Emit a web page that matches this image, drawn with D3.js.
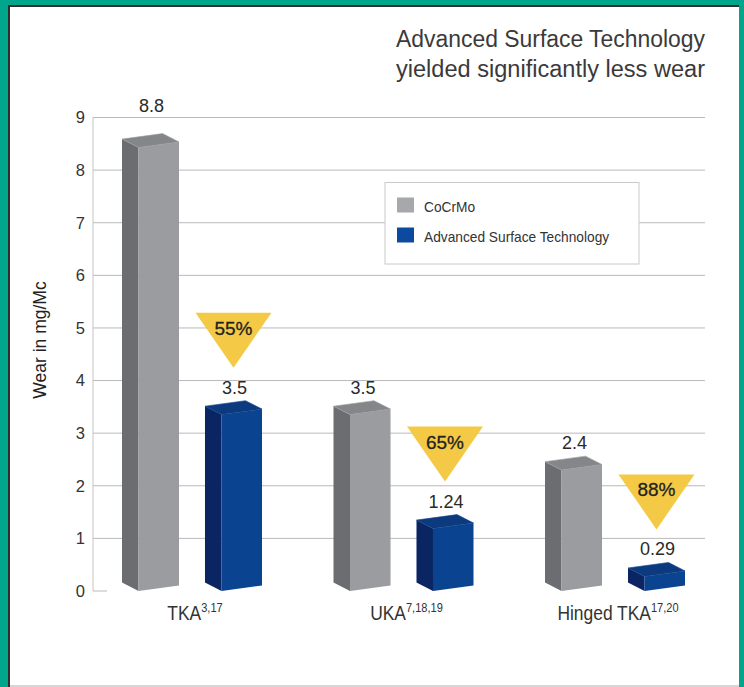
<!DOCTYPE html>
<html><head><meta charset="utf-8">
<script src="https://cdn.jsdelivr.net/npm/d3@7"></script>
<style>body{margin:0;background:#fff} svg{display:block}</style>
</head><body><svg id="c" width="744" height="687"></svg>
<script>
// ---------- data ----------
const categories = ["TKA", "UKA", "Hinged TKA"];
const categoryRefs = ["3,17", "7,18,19", "17,20"];
const series = ["CoCrMo", "Advanced Surface Technology"];
const cocrmoValues = [8.8, 3.5, 2.4];
const astValues = [3.5, 1.24, 0.29];
const reductionLabels = ["55%", "65%", "88%"];
const yTicks = [0, 1, 2, 3, 4, 5, 6, 7, 8, 9];
const titleLines = ["Advanced Surface Technology", "yielded significantly less wear"];
const yTitle = "Wear in mg/Mc";

// ---------- styles ----------
const sans = "'Liberation Sans',Arial,sans-serif";
const colors = {
  CoCrMo: {front: "#9b9ca0", side: "#6c6d71", top: "#85868a", legend: "#a7a8ab"},
  "Advanced Surface Technology": {front: "#0a438f", side: "#0b2462", top: "#0d3a7e", legend: "#0c4a9f"}
};
// condensed look: squeeze text horizontally
function condense(sel, f) {
  const w = sel.node().getComputedTextLength() * f;
  sel.attr("textLength", w).attr("lengthAdjust", "spacingAndGlyphs");
  return w;
}

const svg = d3.select("#c");

// ---------- frame ----------
svg.append("rect").attr("width", 744).attr("height", 687).attr("fill", "#00a68c");
svg.append("rect").attr("x", 8).attr("y", 5).attr("width", 731).attr("height", 690).attr("fill", "#2e2e2e");
svg.append("rect").attr("x", 10).attr("y", 7).attr("width", 729).attr("height", 678).attr("fill", "#ffffff");
svg.append("rect").attr("x", 10).attr("y", 685).attr("width", 729).attr("height", 2).attr("fill", "#d6d6d6");

// ---------- scales ----------
const plotLeft = 93, plotRight = 705;
const y = d3.scaleLinear().domain([0, 9]).range([591, 117.5]);
// projected (3D) bar height scale
const h = d3.scaleLinear().domain([0, 9]).range([0, 453.6]);
const xGroup = d3.scalePoint().domain(categories).range([192, 615]);
const xInner = d3.scaleBand().domain(series).range([-70, 70]).paddingInner(0.313);
const bw = xInner.bandwidth();
const sideW = 16.5, sideDy = -8.4, frontDy = -5.5;

// ---------- gridlines ----------
svg.append("g").selectAll("line").data(yTicks.filter(d => d > 0)).join("line")
  .attr("x1", plotLeft).attr("x2", plotRight)
  .attr("y1", d => y(d)).attr("y2", d => y(d))
  .attr("stroke", "#b9b9b9").attr("stroke-width", 1);
svg.append("line").attr("x1", plotLeft).attr("x2", plotLeft + 14)
  .attr("y1", y(0)).attr("y2", y(0)).attr("stroke", "#b9b9b9");
svg.append("line").attr("x1", plotLeft).attr("x2", plotLeft)
  .attr("y1", y(9)).attr("y2", y(0)).attr("stroke", "#c4c4c4");

// ---------- y axis ----------
const yAxis = svg.append("g").attr("transform", `translate(${plotLeft},0)`)
  .call(d3.axisLeft(y).tickValues(yTicks).tickSize(0).tickPadding(8).tickFormat(d3.format("d")));
yAxis.select(".domain").remove();
yAxis.selectAll("text").attr("font-family", sans).attr("font-size", 16.5).attr("fill", "#333");

svg.append("text").attr("transform", "translate(46,340) rotate(-90)")
  .attr("text-anchor", "middle").attr("font-family", sans).attr("font-size", 17.5)
  .attr("fill", "#222").text(yTitle);

// ---------- title ----------
titleLines.forEach((t, i) => {
  svg.append("text").attr("x", 396).attr("y", 47 + i * 30)
    .attr("font-family", sans).attr("font-size", 23).attr("fill", "#3a3a3a")
    .attr("textLength", 309).attr("lengthAdjust", "spacingAndGlyphs").text(t);
});

// ---------- legend ----------
const leg = svg.append("g");
leg.append("rect").attr("x", 385).attr("y", 182.5).attr("width", 254).attr("height", 81.5)
  .attr("fill", "#fff").attr("stroke", "#cacaca");
series.forEach((s, i) => {
  leg.append("rect").attr("x", 397).attr("y", 197.5 + i * 30).attr("width", 17).attr("height", 15)
    .attr("fill", colors[s].legend);
  const t = leg.append("text").attr("x", 424).attr("y", 212 + i * 29.5)
    .attr("font-family", sans).attr("font-size", 15).attr("fill", "#333").text(s);
  condense(t, 0.915);
});

// ---------- bars ----------
const rows = [];
categories.forEach((c, ci) => {
  series.forEach((s, si) => {
    const v = si === 0 ? cocrmoValues[ci] : astValues[ci];
    rows.push({c, ci, s, si, v});
  });
});
const base = y(0);
const barG = svg.append("g");
rows.forEach(d => {
  const x0 = xGroup(d.c) + xInner(d.s);
  const fw = bw - sideW;
  const FLx = x0 + sideW, FRx = FLx + fw;
  const H = h(d.v);
  const FLb = [FLx, base], FRb = [FRx, base + frontDy], BLb = [x0, base + sideDy];
  const FLt = [FLx, base - H], FRt = [FRx, base + frontDy - H], BLt = [x0, base + sideDy - H];
  const BRt = [FRx - sideW, base + frontDy + sideDy - H];
  const col = colors[d.s];
  const poly = pts => pts.map(p => p.join(",")).join(" ");
  barG.append("polygon").attr("points", poly([BLb, FLb, FLt, BLt])).attr("fill", col.side);
  barG.append("polygon").attr("points", poly([FLb, FRb, FRt, FLt])).attr("fill", col.front);
  barG.append("polygon").attr("points", poly([FLt, FRt, BRt, BLt])).attr("fill", col.top)
    .attr("stroke", col.front).attr("stroke-width", 0.6);
  d.cx = x0 + bw / 2;
  d.backTop = BRt[1];
  // value label, kept clear of the top gridline
  let ly = d.backTop - 7;
  if (ly - 13 < y(9) + 3 && ly > y(9)) ly = y(9) - 6;
  svg.append("text").attr("x", d.cx + 1).attr("y", ly).attr("text-anchor", "middle")
    .attr("font-family", sans).attr("font-size", 18).attr("fill", "#2a2a2a").text(String(d.v));
});

// ---------- reduction triangles ----------
rows.filter(d => d.si === 1).forEach(d => {
  const apex = d.backTop - 33;
  const top = apex - 55;
  svg.append("polygon")
    .attr("points", `${d.cx - 38},${top} ${d.cx + 38},${top} ${d.cx},${apex}`)
    .attr("fill", "#f4c945");
  svg.append("text").attr("x", d.cx).attr("y", top + 22).attr("text-anchor", "middle")
    .attr("font-family", sans).attr("font-size", 19).attr("fill", "#222")
    .attr("stroke", "#222").attr("stroke-width", 0.3)
    .text(reductionLabels[d.ci]);
});

// ---------- category labels (one text, superscript tspan, condensed) ----------
categories.forEach((c, i) => {
  const cx = xGroup(c) + 3;
  const t = svg.append("text").attr("x", cx).attr("y", 620).attr("text-anchor", "middle")
    .attr("font-family", sans).attr("fill", "#333")
    .attr("transform", `translate(${cx},0) scale(0.85,1) translate(${-cx},0)`);
  t.append("tspan").attr("font-size", 20.5).text(c);
  t.append("tspan").attr("font-size", 13).attr("dy", -8).text(categoryRefs[i]);
});
</script></body></html>
